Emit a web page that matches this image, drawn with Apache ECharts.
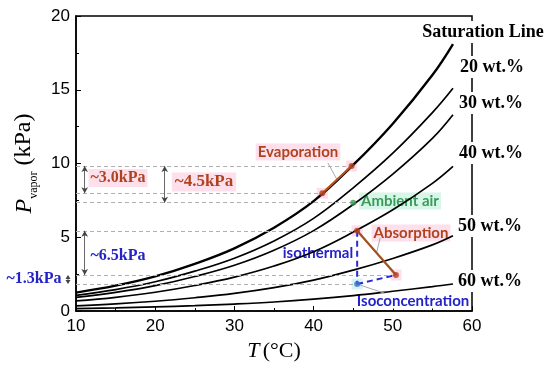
<!DOCTYPE html>
<html><head><meta charset="utf-8">
<script src="https://cdn.jsdelivr.net/npm/echarts@6/dist/echarts.min.js"></script>
<style>html,body{margin:0;padding:0;background:#fff}#c{width:550px;height:369px}</style>
</head><body><div id="c"></div>
<script>
// Temperatures (°C) at which curve values were read
const temps = [10, 15, 20, 25, 30, 35, 40, 45, 50, 55, 57.6];
// Vapor pressure (kPa) curves
const satLine = [1.25, 1.72, 2.35, 3.2, 4.25, 5.65, 7.45, 9.9, 12.7, 16.0, 18.1];
const wt20 = [1.06, 1.45, 1.98, 2.7, 3.58, 4.75, 6.28, 8.35, 10.7, 13.45, 15.1];
const wt30 = [0.92, 1.26, 1.72, 2.34, 3.1, 4.12, 5.45, 7.22, 9.28, 11.7, 13.3];
const wt40 = [0.68, 0.93, 1.27, 1.73, 2.3, 3.05, 4.02, 5.35, 6.86, 8.65, 9.8];
const wt50 = [0.35, 0.48, 0.66, 0.9, 1.19, 1.58, 2.09, 2.77, 3.56, 4.48, 5.1];
const wt60 = [0.16, 0.21, 0.28, 0.36, 0.47, 0.61, 0.8, 1.04, 1.34, 1.65, 1.83];
const curveNames = ['Saturation Line', '20 wt.%', '30 wt.%', '40 wt.%', '50 wt.%', '60 wt.%'];
const curves = [satLine, wt20, wt30, wt40, wt50, wt60];

// Process points [T, P]
const evapLow = [41.1, 7.98];
const evapHigh = [44.8, 9.83];
const absTop = [45.5, 5.44];
const absBottom = [50.4, 2.44];
const ambientAir = [45.0, 7.34];
const isoPoint = [45.5, 1.83];

// Annotation texts
const deltaLabels = ['~3.0kPa', '~4.5kPa', '~6.5kPa', '~1.3kPa'];
const xTicks = [10, 20, 30, 40, 50, 60];
const yTicks = [0, 5, 10, 15, 20];

const chart = echarts.init(document.getElementById('c'));

const refLevels = [evapHigh, evapLow, ambientAir, absTop, absBottom, isoPoint];
const arrows = [
  [[11.1, evapHigh[1]], [11.1, evapLow[1]]],
  [[21.2, evapHigh[1]], [21.2, ambientAir[1]]],
  [[11.1, absTop[1]], [11.1, absBottom[1]]]
];
const leaders = [
  [[41.8, 10.05], [(evapLow[0]+evapHigh[0])/2, (evapLow[1]+evapHigh[1])/2]],
  [[48.4, 4.95], [(absTop[0]+absBottom[0])/2, (absTop[1]+absBottom[1])/2]],
  [[45.9, 1.75], [49.0, 1.2]]
];

const series = curves.map((c, i) => ({
  type: 'line', name: curveNames[i], data: temps.map((t, j) => [t, c[j]]),
  smooth: 0.4, symbol: 'none', silent: true, z: 3,
  lineStyle: { color: '#000', width: i === 0 ? 2.4 : 1.7 }
}));

series.push({
  type: 'line', data: [], silent: true, z: 2,
  markLine: {
    silent: true, symbol: 'none', label: { show: false },
    lineStyle: { color: '#b0b0b0', width: 1, type: [4, 3] },
    data: refLevels.map(p => [{ coord: [10, p[1]] }, { coord: [p[0], p[1]] }])
  }
});
series.push({
  type: 'line', data: [], silent: true, z: 4,
  markLine: {
    silent: true, symbol: ['arrow', 'arrow'], symbolSize: [5, 6], label: { show: false },
    lineStyle: { color: '#444', width: 0.8, type: 'solid' },
    data: arrows.map(a => [{ coord: a[0] }, { coord: a[1] }])
  }
});
series.push({
  type: 'line', data: [], silent: true, z: 4,
  markLine: {
    silent: true, symbol: 'none', label: { show: false },
    lineStyle: { color: '#aaa', width: 1, type: 'solid' },
    data: leaders.map(a => [{ coord: a[0] }, { coord: a[1] }])
  }
});
// highlight squares
series.push({
  type: 'scatter', data: [evapLow, evapHigh, absTop, absBottom], symbol: 'rect', symbolSize: 11,
  itemStyle: { color: '#fcd6e6' }, silent: true, z: 2
});
series.push({
  type: 'scatter', data: [isoPoint], symbol: 'rect', symbolSize: 11,
  itemStyle: { color: '#c9f1f4' }, silent: true, z: 2
});
// process lines
series.push({ type: 'line', data: [evapLow, evapHigh], symbol: 'none', silent: true, z: 5,
  lineStyle: { color: '#b8501c', width: 2.2 } });
series.push({ type: 'line', data: [absTop, absBottom], symbol: 'none', silent: true, z: 5,
  lineStyle: { color: '#a0501e', width: 2.2 } });
series.push({ type: 'line', data: [absTop, isoPoint], symbol: 'none', silent: true, z: 5,
  lineStyle: { color: '#2a2ad0', width: 2, type: [6, 4] } });
series.push({ type: 'line', data: [isoPoint, absBottom], symbol: 'none', silent: true, z: 5,
  lineStyle: { color: '#2a2ad0', width: 2, type: [6, 4] } });
// dots
series.push({ type: 'scatter', data: [evapLow, evapHigh, absTop, absBottom], symbolSize: 6,
  itemStyle: { color: '#b5401e' }, silent: true, z: 6 });
series.push({ type: 'scatter', data: [ambientAir], symbolSize: 6,
  itemStyle: { color: '#3a9a55' }, silent: true, z: 6 });
series.push({ type: 'scatter', data: [isoPoint], symbolSize: 6,
  itemStyle: { color: '#3a70cc' }, silent: true, z: 6 });

function txt(x, y, text, st) {
  return { type: 'text', x: x, y: y, z: 1, silent: true,
    style: Object.assign({ text: text, align: 'center', verticalAlign: 'middle' }, st) };
}
const serifB = { fontFamily: 'Liberation Serif', fontWeight: 'bold', fontSize: 18, fill: '#000', backgroundColor: '#fff', padding: [2, 2] };
const redC = '#b0431f', blueC = '#2323c8', greenC = '#3a9a5a';
const sansB = { fontFamily: 'Lato', fontWeight: 'bold', fontSize: 15 };
const rightY = [32, 67, 103, 153, 226, 281];
const rightX = [483, 492, 491, 491, 490, 490];

const graphics = curveNames.map((n, i) => Object.assign(txt(rightX[i], rightY[i], n, serifB), { z: 10 }));
graphics.push(txt(298, 152, 'Evaporation', Object.assign({ fill: redC, backgroundColor: '#fde0ec', padding: [1, 2] }, sansB)));
graphics.push(txt(400, 201, 'Ambient air', Object.assign({ fill: greenC, backgroundColor: '#d6f6e8', padding: [1, 2] }, sansB)));
graphics.push(txt(411, 233, 'Absorption', Object.assign({ fill: redC, backgroundColor: '#fde0ec', padding: [1, 2] }, sansB)));
graphics.push(txt(318, 253, 'isothermal', Object.assign({ fill: blueC }, sansB)));
graphics.push(txt(413, 301, 'Isoconcentration', Object.assign({ fill: blueC, backgroundColor: '#fff', padding: [0, 1] }, sansB)));
const dSt = { fontFamily: 'Liberation Serif', fontWeight: 'bold', fontSize: 16 };
graphics.push(txt(118, 178, deltaLabels[0], Object.assign({ fill: redC, backgroundColor: '#fde0ec', padding: [1, 2] }, dSt)));
graphics.push(txt(204, 182, deltaLabels[1], Object.assign({ fill: redC, backgroundColor: '#fde0ec', padding: [1, 3] }, Object.assign({}, dSt, { fontSize: 17 }))));
graphics.push(txt(118, 256, deltaLabels[2], Object.assign({ fill: blueC }, dSt)));
graphics.push(txt(34, 279, deltaLabels[3], Object.assign({ fill: blueC }, dSt)));

const option = {
  animation: false,
  backgroundColor: '#fff',
  grid: { left: 76, right: 78, top: 16, bottom: 58, show: true, borderColor: '#000', borderWidth: 1.5, backgroundColor: 'transparent' },
  xAxis: {
    type: 'value', min: xTicks[0], max: xTicks[xTicks.length - 1], interval: 10,
    splitLine: { show: false },
    axisLine: { lineStyle: { color: '#000', width: 1.5 } },
    axisTick: { inside: true, length: 5, lineStyle: { color: '#000', width: 1 } },
    minorTick: { show: true, splitNumber: 2, length: 3, lineStyle: { color: '#000' } },
    axisLabel: { fontFamily: 'Liberation Sans', fontSize: 17, color: '#000', margin: 7 },
    name: '{i|T} {n|(°C)}', nameLocation: 'middle', nameGap: 29,
    nameTextStyle: { rich: {
      i: { fontFamily: 'Liberation Serif', fontStyle: 'italic', fontSize: 22, color: '#000' },
      n: { fontFamily: 'Liberation Serif', fontSize: 22, color: '#000' } } }
  },
  yAxis: {
    type: 'value', min: yTicks[0], max: yTicks[yTicks.length - 1], interval: 5,
    splitLine: { show: false },
    axisLine: { show: true, lineStyle: { color: '#000', width: 1.5 } },
    axisTick: { show: true, inside: true, length: 5, lineStyle: { color: '#000', width: 1 } },
    minorTick: { show: true, splitNumber: 2, length: 3, lineStyle: { color: '#000' } },
    axisLabel: { fontFamily: 'Liberation Sans', fontSize: 17, color: '#000', margin: 6 },
    name: '{i|P}{s|vapor}{n| (kPa)}', nameLocation: 'middle', nameGap: 33,
    nameTextStyle: { rich: {
      i: { fontFamily: 'Liberation Serif', fontStyle: 'italic', fontSize: 24, color: '#000', lineHeight: 26, verticalAlign: 'bottom' },
      s: { fontFamily: 'Liberation Serif', fontSize: 12, color: '#000', lineHeight: 26, verticalAlign: 'bottom', padding: [0, 0, -4, 0] },
      n: { fontFamily: 'Liberation Serif', fontSize: 24, color: '#000', lineHeight: 26, verticalAlign: 'bottom' } } }
  },
  graphic: graphics,
  series: series
};
chart.setOption(option);

// small double arrow for the ~1.3kPa annotation, left of the axis
const pTop = chart.convertToPixel({ gridIndex: 0 }, [10, absBottom[1]]);
const pBot = chart.convertToPixel({ gridIndex: 0 }, [10, isoPoint[1]]);
const ax = pTop[0] - 8;
chart.setOption({ graphic: graphics.concat([
  { type: 'line', z: 5, silent: true, shape: { x1: ax, y1: pTop[1] + 1, x2: ax, y2: pBot[1] - 1 }, style: { stroke: '#444', lineWidth: 0.8 } },
  { type: 'polygon', z: 5, silent: true, shape: { points: [[ax, pTop[1]], [ax - 2.5, pTop[1] + 4], [ax + 2.5, pTop[1] + 4]] }, style: { fill: '#444' } },
  { type: 'polygon', z: 5, silent: true, shape: { points: [[ax, pBot[1]], [ax - 2.5, pBot[1] - 4], [ax + 2.5, pBot[1] - 4]] }, style: { fill: '#444' } }
]) });
</script></body></html>
